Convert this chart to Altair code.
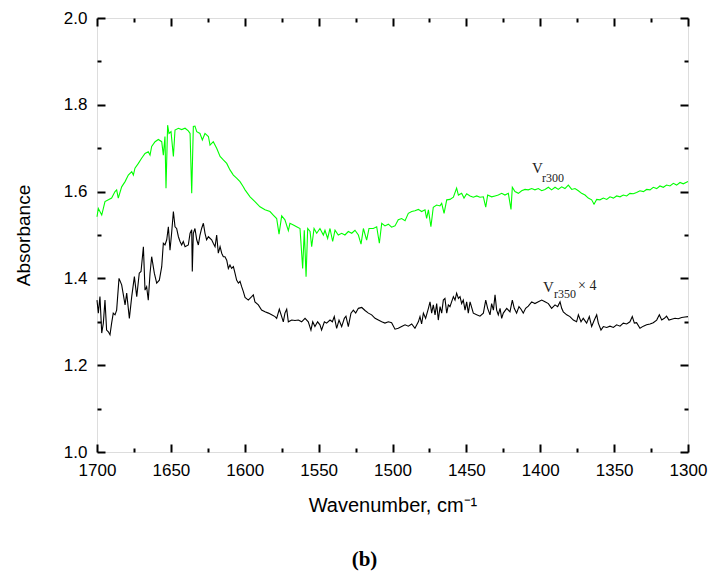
import altair as alt
import pandas as pd

W, H = 591, 434

# V_r300 spectrum: (wavenumber cm-1, absorbance)
green_points = [
    (1700.0, 1.542), (1699.1, 1.561), (1696.8, 1.546), (1694.6, 1.577), (1692.3, 1.581),
    (1690.1, 1.585), (1687.8, 1.600), (1686.7, 1.604), (1685.6, 1.585), (1683.3, 1.611),
    (1681.0, 1.623), (1678.8, 1.638), (1676.5, 1.646), (1675.4, 1.638), (1674.3, 1.654),
    (1672.0, 1.665), (1669.8, 1.677), (1667.5, 1.688), (1665.3, 1.692), (1664.1, 1.684),
    (1663.0, 1.704), (1660.7, 1.715), (1658.5, 1.720), (1656.2, 1.715), (1655.1, 1.684),
    (1654.0, 1.727), (1653.3, 1.608), (1652.2, 1.753), (1651.3, 1.734), (1649.9, 1.738),
    (1648.3, 1.681), (1647.2, 1.742), (1644.9, 1.746), (1642.7, 1.743), (1640.4, 1.746),
    (1638.2, 1.740), (1637.0, 1.734), (1635.9, 1.596), (1634.8, 1.750), (1633.7, 1.751),
    (1632.5, 1.738), (1630.3, 1.734), (1628.7, 1.719), (1626.9, 1.734), (1624.6, 1.727),
    (1623.5, 1.707), (1621.3, 1.715), (1619.0, 1.700), (1616.7, 1.681), (1614.5, 1.673),
    (1612.2, 1.665), (1610.0, 1.650), (1607.7, 1.638), (1605.5, 1.631), (1603.2, 1.623),
    (1601.0, 1.611), (1599.8, 1.604), (1596.4, 1.588), (1593.1, 1.577), (1589.7, 1.565),
    (1586.3, 1.558), (1582.9, 1.554), (1580.7, 1.546), (1578.4, 1.538), (1576.8, 1.502),
    (1575.0, 1.544), (1572.8, 1.535), (1570.5, 1.510), (1569.4, 1.527), (1567.1, 1.523),
    (1564.9, 1.519), (1562.6, 1.515), (1560.8, 1.423), (1559.7, 1.511), (1558.5, 1.404),
    (1557.4, 1.515), (1555.8, 1.508), (1554.7, 1.473), (1553.1, 1.515), (1551.3, 1.504),
    (1549.1, 1.515), (1546.8, 1.500), (1545.7, 1.511), (1543.9, 1.492), (1542.3, 1.515),
    (1540.5, 1.485), (1538.9, 1.511), (1536.7, 1.500), (1534.4, 1.504), (1532.2, 1.500),
    (1529.9, 1.508), (1527.6, 1.504), (1525.4, 1.511), (1523.1, 1.500), (1521.3, 1.479),
    (1519.7, 1.515), (1517.5, 1.488), (1515.9, 1.515), (1513.0, 1.515), (1510.7, 1.519),
    (1508.9, 1.481), (1507.3, 1.527), (1505.1, 1.521), (1502.8, 1.525), (1500.6, 1.518),
    (1498.3, 1.521), (1496.1, 1.535), (1493.8, 1.538), (1491.5, 1.533), (1489.3, 1.550),
    (1487.0, 1.554), (1484.8, 1.556), (1482.5, 1.559), (1480.3, 1.554), (1478.0, 1.558),
    (1476.9, 1.538), (1475.7, 1.558), (1474.0, 1.519), (1472.4, 1.564), (1470.1, 1.569),
    (1467.9, 1.567), (1466.7, 1.573), (1465.1, 1.550), (1463.3, 1.581), (1461.1, 1.582),
    (1458.8, 1.587), (1456.6, 1.608), (1455.4, 1.592), (1453.2, 1.596), (1451.6, 1.585),
    (1449.8, 1.595), (1447.5, 1.590), (1445.3, 1.587), (1443.0, 1.590), (1440.8, 1.587),
    (1438.5, 1.588), (1436.9, 1.564), (1435.6, 1.592), (1432.9, 1.588), (1430.6, 1.590),
    (1428.4, 1.592), (1426.1, 1.596), (1423.9, 1.592), (1421.6, 1.596), (1419.8, 1.559),
    (1418.9, 1.610), (1417.1, 1.600), (1414.8, 1.596), (1412.6, 1.602), (1410.3, 1.605),
    (1408.1, 1.604), (1405.8, 1.607), (1403.6, 1.604), (1401.3, 1.607), (1399.0, 1.602),
    (1396.8, 1.605), (1394.5, 1.610), (1392.3, 1.604), (1390.0, 1.610), (1387.8, 1.605),
    (1385.5, 1.611), (1383.3, 1.607), (1381.0, 1.615), (1378.7, 1.605), (1376.5, 1.607),
    (1374.2, 1.602), (1372.0, 1.596), (1369.7, 1.592), (1367.5, 1.585), (1365.2, 1.581),
    (1363.6, 1.571), (1361.8, 1.582), (1359.6, 1.581), (1357.3, 1.585), (1355.0, 1.582),
    (1352.8, 1.588), (1350.5, 1.585), (1348.3, 1.590), (1346.0, 1.588), (1343.8, 1.592),
    (1341.5, 1.590), (1339.3, 1.596), (1337.0, 1.595), (1334.8, 1.598), (1332.5, 1.602),
    (1330.2, 1.600), (1328.0, 1.605), (1325.7, 1.604), (1323.5, 1.610), (1321.2, 1.607),
    (1319.0, 1.613), (1316.7, 1.610), (1314.5, 1.615), (1312.2, 1.613), (1309.9, 1.619),
    (1307.7, 1.615), (1305.4, 1.621), (1303.2, 1.618), (1300.0, 1.623),
]

# V_r350 x 4 spectrum
black_points = [
    (1700.0, 1.350), (1699.1, 1.320), (1698.0, 1.358), (1696.8, 1.274), (1695.7, 1.297),
    (1694.6, 1.350), (1693.5, 1.281), (1692.3, 1.277), (1691.2, 1.270), (1690.1, 1.297),
    (1689.0, 1.320), (1687.8, 1.316), (1686.7, 1.327), (1685.1, 1.400), (1683.3, 1.385),
    (1681.0, 1.339), (1679.9, 1.366), (1678.1, 1.308), (1676.5, 1.358), (1674.7, 1.404),
    (1673.1, 1.358), (1671.4, 1.412), (1670.2, 1.416), (1668.6, 1.473), (1667.5, 1.373),
    (1666.4, 1.381), (1665.3, 1.350), (1664.1, 1.412), (1663.0, 1.450), (1661.2, 1.412),
    (1659.6, 1.389), (1657.8, 1.396), (1656.2, 1.427), (1655.1, 1.481), (1654.0, 1.477),
    (1652.8, 1.489), (1651.7, 1.519), (1650.6, 1.465), (1649.5, 1.504), (1648.3, 1.554),
    (1647.2, 1.519), (1646.1, 1.515), (1644.9, 1.496), (1643.8, 1.485), (1642.7, 1.477),
    (1641.6, 1.485), (1640.4, 1.473), (1638.2, 1.477), (1637.0, 1.504), (1635.9, 1.512),
    (1635.5, 1.416), (1634.8, 1.504), (1633.7, 1.515), (1632.5, 1.489), (1631.4, 1.477),
    (1630.3, 1.500), (1629.2, 1.515), (1628.0, 1.527), (1626.9, 1.504), (1625.8, 1.489),
    (1624.6, 1.496), (1622.4, 1.489), (1621.3, 1.481), (1620.1, 1.473), (1619.0, 1.500),
    (1617.9, 1.458), (1616.7, 1.473), (1615.6, 1.458), (1614.5, 1.450), (1613.4, 1.450),
    (1612.2, 1.442), (1611.1, 1.423), (1610.0, 1.431), (1608.9, 1.423), (1607.7, 1.427),
    (1606.6, 1.412), (1605.5, 1.396), (1604.3, 1.389), (1603.2, 1.393), (1602.1, 1.381),
    (1601.0, 1.370), (1599.8, 1.356), (1597.6, 1.350), (1595.3, 1.358), (1594.2, 1.362),
    (1593.1, 1.346), (1590.8, 1.339), (1588.6, 1.327), (1586.3, 1.323), (1584.0, 1.320),
    (1581.8, 1.316), (1579.5, 1.312), (1578.4, 1.308), (1576.6, 1.329), (1575.0, 1.312),
    (1573.9, 1.300), (1572.8, 1.320), (1571.6, 1.329), (1570.5, 1.300), (1568.2, 1.304),
    (1566.0, 1.303), (1563.7, 1.304), (1561.5, 1.300), (1559.2, 1.308), (1557.0, 1.300),
    (1555.2, 1.281), (1554.0, 1.300), (1552.5, 1.289), (1550.7, 1.300), (1549.1, 1.293),
    (1548.0, 1.281), (1546.1, 1.300), (1544.6, 1.297), (1542.3, 1.304), (1540.7, 1.300),
    (1539.4, 1.312), (1537.8, 1.285), (1536.2, 1.304), (1534.4, 1.289), (1532.6, 1.308),
    (1531.5, 1.313), (1529.9, 1.289), (1528.1, 1.320), (1526.5, 1.327), (1524.9, 1.320),
    (1523.1, 1.331), (1520.8, 1.333), (1518.6, 1.326), (1516.3, 1.320), (1514.1, 1.316),
    (1511.8, 1.308), (1509.6, 1.304), (1507.3, 1.300), (1505.1, 1.297), (1502.8, 1.300),
    (1500.6, 1.298), (1498.3, 1.283), (1496.1, 1.285), (1493.8, 1.289), (1491.5, 1.293),
    (1489.3, 1.290), (1487.0, 1.295), (1484.8, 1.285), (1482.5, 1.300), (1481.4, 1.312),
    (1480.3, 1.295), (1479.1, 1.320), (1477.6, 1.308), (1475.7, 1.331), (1474.6, 1.346),
    (1473.5, 1.320), (1472.4, 1.339), (1471.2, 1.316), (1470.1, 1.342), (1469.0, 1.304),
    (1467.8, 1.335), (1466.7, 1.320), (1465.6, 1.350), (1464.5, 1.354), (1463.3, 1.320),
    (1462.2, 1.339), (1461.1, 1.335), (1458.8, 1.358), (1457.7, 1.350), (1456.6, 1.366),
    (1455.4, 1.354), (1454.3, 1.358), (1453.2, 1.342), (1452.1, 1.350), (1450.9, 1.327),
    (1449.8, 1.346), (1448.7, 1.320), (1447.5, 1.346), (1445.3, 1.320), (1443.0, 1.316),
    (1440.8, 1.313), (1438.5, 1.320), (1436.9, 1.350), (1435.6, 1.331), (1434.0, 1.316),
    (1432.9, 1.342), (1431.7, 1.327), (1430.6, 1.362), (1429.5, 1.327), (1428.4, 1.316),
    (1427.2, 1.331), (1426.1, 1.308), (1425.0, 1.320), (1422.7, 1.331), (1420.5, 1.323),
    (1418.9, 1.350), (1417.6, 1.331), (1416.0, 1.320), (1414.4, 1.335), (1413.0, 1.329),
    (1411.5, 1.320), (1409.9, 1.331), (1408.1, 1.336), (1405.8, 1.346), (1403.6, 1.342),
    (1401.3, 1.346), (1399.0, 1.350), (1396.8, 1.346), (1394.5, 1.342), (1392.3, 1.331),
    (1390.0, 1.339), (1388.2, 1.335), (1386.6, 1.346), (1385.5, 1.331), (1384.4, 1.323),
    (1382.1, 1.316), (1379.9, 1.312), (1377.6, 1.304), (1375.4, 1.300), (1374.2, 1.316),
    (1372.4, 1.300), (1370.9, 1.308), (1368.6, 1.297), (1366.8, 1.312), (1365.2, 1.289),
    (1363.4, 1.304), (1361.8, 1.316), (1360.7, 1.297), (1358.9, 1.281), (1357.3, 1.289),
    (1355.0, 1.287), (1352.8, 1.290), (1350.5, 1.287), (1348.3, 1.293), (1346.0, 1.290),
    (1343.8, 1.297), (1341.5, 1.295), (1339.3, 1.300), (1337.7, 1.312), (1336.3, 1.297),
    (1334.8, 1.298), (1332.5, 1.285), (1330.2, 1.290), (1328.0, 1.293), (1325.7, 1.295),
    (1323.5, 1.298), (1321.2, 1.304), (1319.4, 1.316), (1317.8, 1.304), (1316.0, 1.308),
    (1314.5, 1.313), (1312.9, 1.304), (1311.1, 1.306), (1308.8, 1.308), (1306.6, 1.307),
    (1304.3, 1.310), (1302.0, 1.311), (1300.0, 1.312),
]

x_major = [1700, 1650, 1600, 1550, 1500, 1450, 1400, 1350, 1300]
x_all_ticks = [1700, 1675, 1650, 1625, 1600, 1575, 1550, 1525, 1500,
               1475, 1450, 1425, 1400, 1375, 1350, 1325, 1300]
y_major = [1.0, 1.2, 1.4, 1.6, 1.8, 2.0]
y_all_ticks = [1.0, 1.1, 1.2, 1.3, 1.4, 1.5, 1.6, 1.7, 1.8, 1.9, 2.0]

# annotations: (wavenumber, absorbance, text, font size)
annotations = [
    (1405.6, 1.643, "V", 15),
    (1398.8, 1.622, "r300", 12),
    (1398.1, 1.369, "V", 15),
    (1390.7, 1.355, "r350", 12),
    (1374.4, 1.373, "\u00d7 4", 14),
]

green_df = pd.DataFrame(green_points, columns=["wn", "absorb"])
black_df = pd.DataFrame(black_points, columns=["wn", "absorb"])
ann_df = pd.DataFrame(annotations, columns=["wn", "absorb", "label", "fs"])

xscale = alt.Scale(domain=[1300, 1700], reverse=True, nice=False, zero=False)
yscale = alt.Scale(domain=[1.0, 2.0], nice=False, zero=False)

SANS = "Liberation Sans"
SERIF = "Liberation Serif"

x_tick_size = {"condition": {"test": "datum.value % 50 === 0", "value": 8}, "value": 4}
y_tick_size = {"condition": {"test": "round(datum.value * 10) % 2 === 0", "value": 8}, "value": 4}


def x_tick_axis(orient):
    return alt.Axis(orient=orient, offset=-H, values=x_all_ticks, labels=False,
                    domain=False, grid=False, title=None, ticks=True,
                    tickColor="black", tickWidth=2, tickSize=x_tick_size)


def y_tick_axis(orient):
    return alt.Axis(orient=orient, offset=-W, values=y_all_ticks, labels=False,
                    domain=False, grid=False, title=None, ticks=True,
                    tickColor="black", tickWidth=2, tickSize=y_tick_size)


green_line = alt.Chart(green_df).mark_line(color="#00ff00", strokeWidth=1.1).encode(
    x=alt.X("wn:Q", scale=xscale, axis=alt.Axis(
        orient="bottom", values=x_major, format="d", ticks=False, tickSize=0,
        domain=False, grid=False, labelPadding=10, labelFlush=False, labelFont=SANS,
        labelFontSize=17, labelColor="black", title="Wavenumber, cm\u207b\u00b9",
        titleFont=SANS, titleFontSize=20, titleFontWeight="normal", titleColor="black",
        titlePadding=17)),
    y=alt.Y("absorb:Q", scale=yscale, axis=alt.Axis(
        orient="left", values=y_major, format=".1f", ticks=False, tickSize=0,
        domain=False, grid=False, labelPadding=10, labelFlush=False, labelFont=SANS,
        labelFontSize=17, labelColor="black", title="Absorbance", titleFont=SANS,
        titleFontSize=19, titleFontWeight="normal", titleColor="black", titlePadding=30)),
)

black_line = alt.Chart(black_df).mark_line(color="black", strokeWidth=1.1).encode(
    x=alt.X("wn:Q", scale=xscale, axis=x_tick_axis("top")),
    y=alt.Y("absorb:Q", scale=yscale, axis=y_tick_axis("right")),
)

ann_text = alt.Chart(ann_df).mark_text(
    align="left", baseline="alphabetic", font=SERIF, color="#222222"
).encode(
    x=alt.X("wn:Q", scale=xscale, axis=x_tick_axis("bottom")),
    y=alt.Y("absorb:Q", scale=yscale, axis=y_tick_axis("left")),
    text="label:N",
    size=alt.Size("fs:Q", scale=None, legend=None),
)

chart = alt.layer(green_line, black_line, ann_text).resolve_axis(
    x="independent", y="independent"
).properties(
    width=W, height=H,
    autosize=alt.AutoSizeParams(type="none"),
    padding={"left": 97, "top": 18, "right": 21, "bottom": 126},
    title=alt.TitleParams(text="(b)", orient="bottom", anchor="middle", font=SERIF,
                          fontSize=21, fontWeight="bold", color="black", offset=34, dx=-28),
).configure_view(stroke="black", strokeWidth=2).configure(background="white")

chart.save("out.html", embed_options={"renderer": "svg", "actions": False})
